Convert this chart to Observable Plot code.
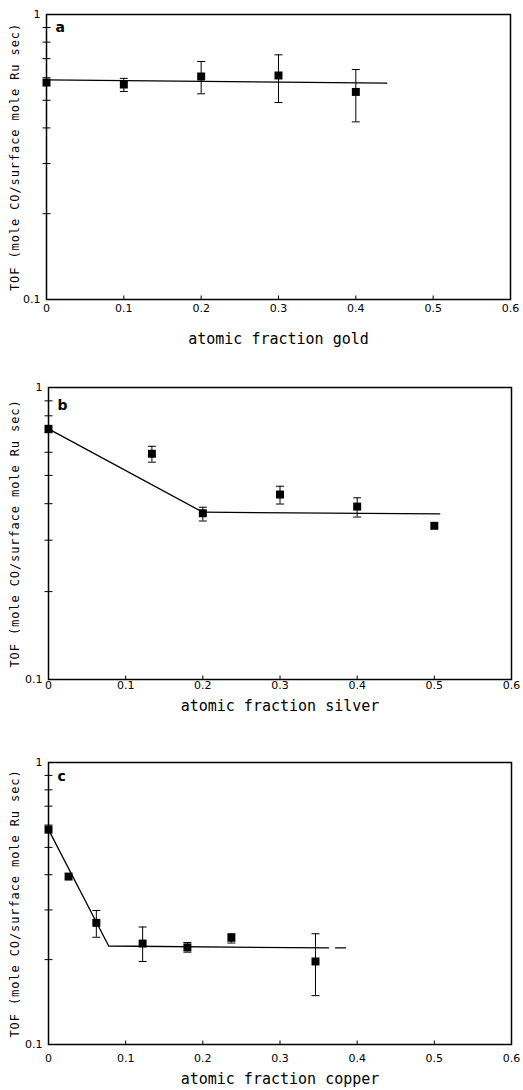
<!DOCTYPE html>
<html><head><meta charset="utf-8">
<script src="https://cdn.jsdelivr.net/npm/d3@7"></script>
<script src="https://cdn.jsdelivr.net/npm/@observablehq/plot@0.6"></script>
<style>
body{margin:0;background:#fff;}
#chart{position:relative;width:523px;height:1090px;background:#fff;}
#chart svg{position:absolute;left:0;}
</style>
</head><body><div id="chart"></div>
<script>
// ---- shared axis text / ticks ----
const yAxisLabel = "TOF (mole CO/surface mole Ru sec)";
const xTicks = [0, 0.1, 0.2, 0.3, 0.4, 0.5, 0.6];
const xTickLabels = ["0", "0.1", "0.2", "0.3", "0.4", "0.5", "0.6"];
const xMinorTicks = [0.1, 0.2, 0.3, 0.4, 0.5];
const yTicks = [1, 0.1];
const yTickLabels = ["1", "0.1"];
const yMinorTicks = [0.2, 0.3, 0.4, 0.5, 0.6, 0.7, 0.8, 0.9];

// ---- panel a: gold ----
const goldX  = [0, 0.1, 0.2, 0.3, 0.4];
const goldY  = [0.577, 0.568, 0.606, 0.611, 0.535];
const goldLo = [null, 0.537, 0.527, 0.491, 0.420];
const goldHi = [null, 0.597, 0.684, 0.722, 0.641];
const goldFitX = [0, 0.44];
const goldFitY = [0.590, 0.574];

// ---- panel b: silver ----
const silverX  = [0, 0.134, 0.2, 0.3, 0.4, 0.5];
const silverY  = [0.722, 0.593, 0.371, 0.430, 0.391, 0.336];
const silverLo = [null, 0.555, 0.349, 0.399, 0.360, null];
const silverHi = [null, 0.629, 0.389, 0.459, 0.419, null];
const silverFitX = [0, 0.2, 0.507];
const silverFitY = [0.722, 0.374, 0.369];

// ---- panel c: copper ----
const copperX  = [0, 0.026, 0.062, 0.122, 0.180, 0.237, 0.346];
const copperY  = [0.578, 0.394, 0.270, 0.228, 0.221, 0.239, 0.197];
const copperLo = [null, null, 0.240, 0.197, 0.2125, 0.229, 0.149];
const copperHi = [null, null, 0.2987, 0.261, 0.230, 0.247, 0.247];
const copperFitX = [0, 0.078, 0.363];
const copperFitY = [0.578, 0.2235, 0.220];
const copperTailX = [0.372, 0.385];
const copperTailY = [0.220, 0.220];

// ---- layout (pixels) ----
const W = 523;
const layouts = [
  {letter: "a", xlabel: "atomic fraction gold", X: goldX, Y: goldY, Lo: goldLo, Hi: goldHi,
   fits: [[goldFitX, goldFitY]],
   svgTop: 0, height: 360, mt: 14, mb: 61, ml: 46, mr: 13, tickDy: 12, xlabDy: 44, letterDx: 9, letterDy: 8},
  {letter: "b", xlabel: "atomic fraction silver", X: silverX, Y: silverY, Lo: silverLo, Hi: silverHi,
   fits: [[silverFitX, silverFitY]],
   svgTop: 360, height: 370, mt: 27, mb: 51, ml: 48, mr: 12, tickDy: 9, xlabDy: 31, letterDx: 9, letterDy: 13},
  {letter: "c", xlabel: "atomic fraction copper", X: copperX, Y: copperY, Lo: copperLo, Hi: copperHi,
   fits: [[copperFitX, copperFitY], [copperTailX, copperTailY]],
   svgTop: 730, height: 360, mt: 32, mb: 46, ml: 48, mr: 12, tickDy: 17, xlabDy: 39, letterDx: 9, letterDy: 9}
];

const capSymbol = {draw(ctx) { ctx.moveTo(-4, 0); ctx.lineTo(4, 0); }};
const yTickSymbol = {draw(ctx) { ctx.moveTo(-4, 0); ctx.lineTo(4, 0); }};
const xTickSymbol = {draw(ctx) { ctx.moveTo(0, 0); ctx.lineTo(0, -4); }};

const chart = document.getElementById("chart");

for (const L of layouts) {
  const pts = L.X.map((x, i) => ({x, y: L.Y[i], lo: L.Lo[i], hi: L.Hi[i]}));
  const errs = pts.filter(d => d.lo != null);
  const fitMarks = L.fits.map(([fx, fy]) =>
    Plot.line(fx.map((x, i) => ({x, y: fy[i]})), {x: "x", y: "y", stroke: "black", strokeWidth: 1.3}));
  const svg = Plot.plot({
    width: W,
    height: L.height,
    marginTop: L.mt, marginBottom: L.mb, marginLeft: L.ml, marginRight: L.mr,
    style: {fontFamily: "DejaVu Sans", background: "white", overflow: "visible"},
    x: {type: "linear", domain: [0, 0.6], axis: null},
    y: {type: "log", domain: [0.1, 1], axis: null},
    marks: [
      Plot.frame({stroke: "black", strokeWidth: 1.5}),
      Plot.dot(yMinorTicks, {y: d => d, frameAnchor: "left", symbol: yTickSymbol, stroke: "black", fill: "none", strokeWidth: 1}),
      Plot.dot(xMinorTicks, {x: d => d, frameAnchor: "bottom", symbol: xTickSymbol, stroke: "black", fill: "none", strokeWidth: 1}),
      Plot.text(xTicks, {x: d => d, frameAnchor: "bottom", dy: L.tickDy, textAnchor: "middle", text: (d, i) => xTickLabels[i], fontSize: 11, fill: "black"}),
      Plot.text(yTicks, {y: d => d, frameAnchor: "left", dx: -6, textAnchor: "end", text: (d, i) => yTickLabels[i], fontSize: 11, fill: "black"}),
      Plot.text([L.xlabel], {frameAnchor: "bottom", dy: L.xlabDy, textAnchor: "middle", text: d => d, fontSize: 15, fontFamily: "DejaVu Sans Mono", fill: "black"}),
      Plot.text([yAxisLabel], {frameAnchor: "left", dx: 15 - L.ml, rotate: -90, textAnchor: "middle", text: d => d, fontSize: 12, fontFamily: "DejaVu Sans Mono", fill: "black"}),
      Plot.text([L.letter], {frameAnchor: "top-left", dx: L.letterDx, dy: L.letterDy, textAnchor: "start", text: d => d, fontSize: 14, fontWeight: "bold", fill: "black"}),
      ...fitMarks,
      Plot.ruleX(errs, {x: "x", y1: "lo", y2: "hi", stroke: "black", strokeWidth: 1}),
      Plot.dot(errs, {x: "x", y: "lo", symbol: capSymbol, stroke: "black", fill: "none", strokeWidth: 1}),
      Plot.dot(errs, {x: "x", y: "hi", symbol: capSymbol, stroke: "black", fill: "none", strokeWidth: 1}),
      Plot.dot(pts, {x: "x", y: "y", symbol: "square", r: 4.5, fill: "black", stroke: "none"})
    ]
  });
  svg.style.top = L.svgTop + "px";
  svg.querySelectorAll("text").forEach(t => {
    if (t.textContent === yAxisLabel) t.style.letterSpacing = "0.9px";
  });
  chart.appendChild(svg);
}
</script>
</body></html>
